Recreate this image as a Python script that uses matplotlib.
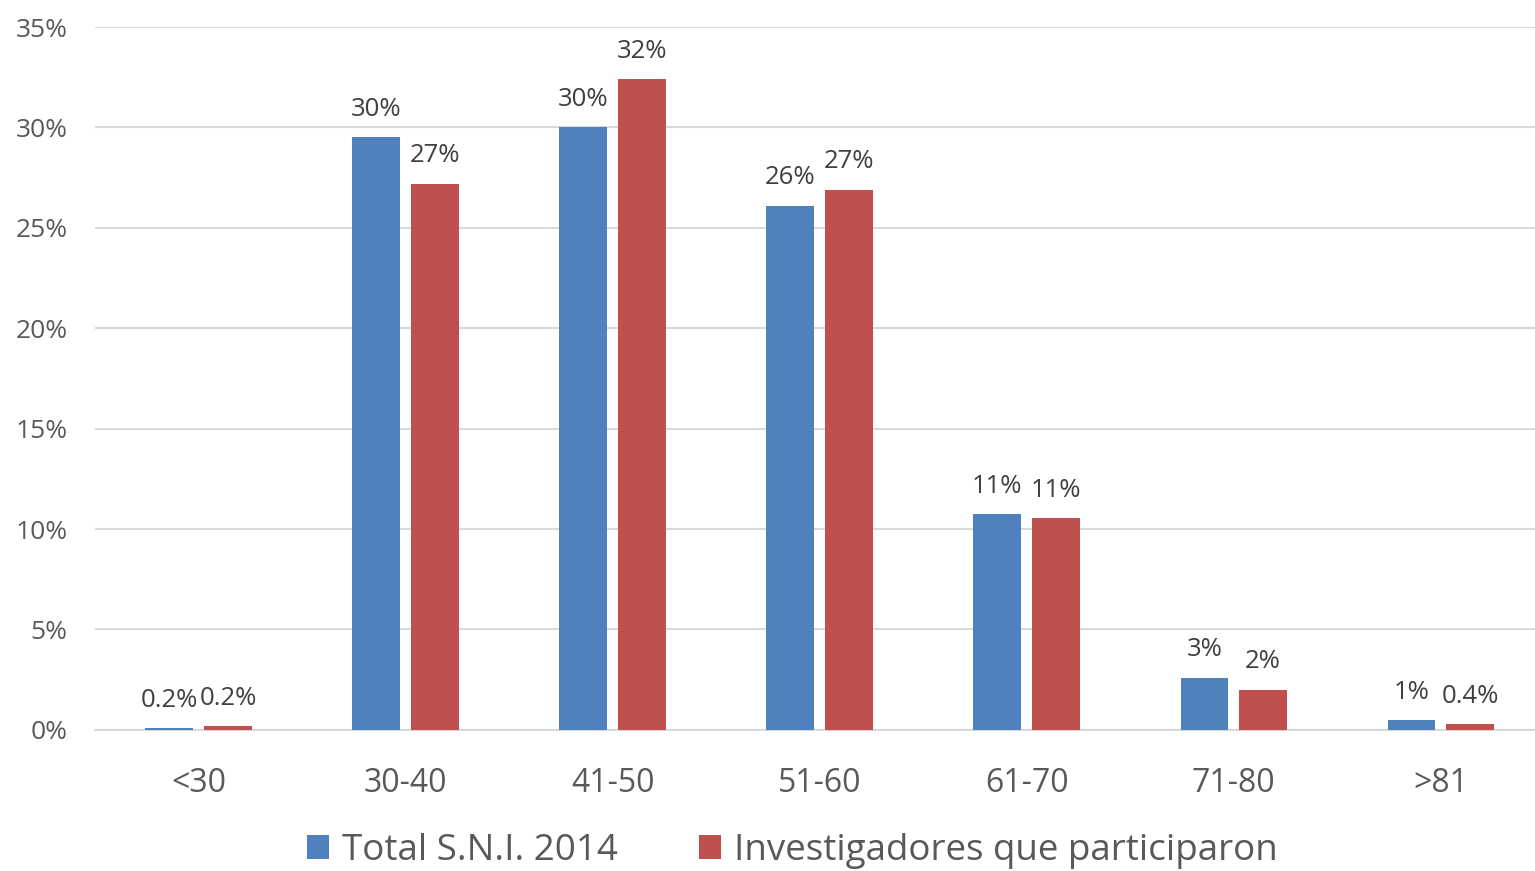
import matplotlib
matplotlib.use("Agg")
from matplotlib import pyplot as plt
import numpy as np

# data
categories = ['<30', '30-40', '41-50', '51-60', '61-70', '71-80', '>81']
total_sni = [0.001, 0.295, 0.300, 0.261, 0.1075, 0.026, 0.005]
participantes = [0.002, 0.272, 0.324, 0.269, 0.1055, 0.020, 0.003]
total_labels = ['0.2%', '30%', '30%', '26%', '11%', '3%', '1%']
part_labels = ['0.2%', '27%', '32%', '27%', '11%', '2%', '0.4%']
series_names = ['Total S.N.I. 2014', 'Investigadores que participaron']

plt.rcParams['font.family'] = ['Open Sans', 'DejaVu Sans']
gray = '#595959'

fig = plt.figure(figsize=(15.35, 8.71), dpi=100)
ax = fig.add_axes([0.062, 0.162, 0.944, 0.807])

x = np.arange(len(categories))
w = 0.23
off = 0.142
b1 = ax.bar(x - off, total_sni, w, color='#4F81BD', label=series_names[0], zorder=3)
b2 = ax.bar(x + off, participantes, w, color='#C0504D', label=series_names[1], zorder=3)

for xi, v, lab in zip(x, total_sni, total_labels):
    ax.annotate(lab, (xi - off, v), xytext=(0, 11), textcoords='offset points',
                ha='center', va='bottom', fontsize=18.5, color='#404040')
for xi, v, lab in zip(x, participantes, part_labels):
    ax.annotate(lab, (xi + off, v), xytext=(0, 11), textcoords='offset points',
                ha='center', va='bottom', fontsize=18.5, color='#404040')

ax.set_xlim(-0.5, 6.5)
ax.set_ylim(0, 0.35)
yt = np.arange(0, 0.351, 0.05)
ax.set_yticks(yt)
ax.set_yticklabels(['%d%%' % round(t * 100) for t in yt])
ax.set_xticks(x)
ax.set_xticklabels(categories)
ax.tick_params(axis='y', length=0, labelsize=19, labelcolor=gray, pad=20)
ax.tick_params(axis='x', length=0, labelsize=23, labelcolor=gray, pad=27)
for lab in ax.get_yticklabels():
    lab.set_horizontalalignment('right')

ax.grid(axis='y', color='#d9d9d9', linewidth=1.5, zorder=0)
for s in ['top', 'right', 'left']:
    ax.spines[s].set_visible(False)
ax.spines['bottom'].set_color('#d9d9d9')
ax.spines['bottom'].set_linewidth(1.5)

fig.legend(handles=[b1, b2], loc='center', bbox_to_anchor=(0.516, 0.023),
           ncol=2, frameon=False, fontsize=26.5, labelcolor=gray,
           handlelength=0.6, handleheight=0.6, handletextpad=0.35, columnspacing=2.2)

plt.savefig('out.png', dpi=100)
